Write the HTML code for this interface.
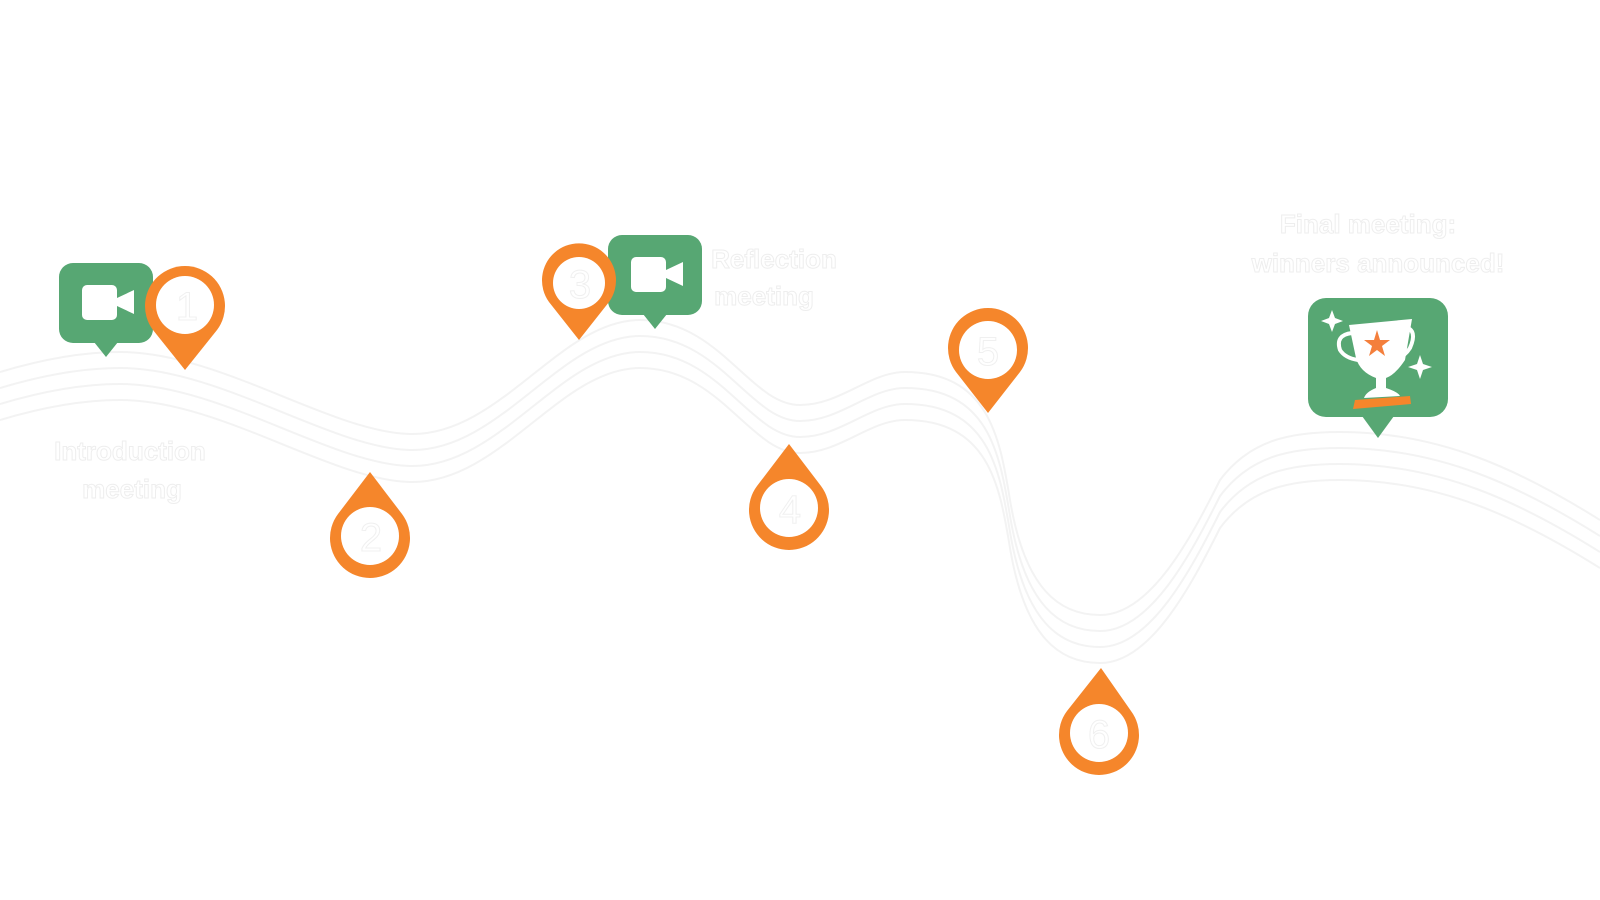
<!DOCTYPE html>
<html><head><meta charset="utf-8"><style>
html,body{margin:0;padding:0;background:#fff;width:1600px;height:900px;overflow:hidden}
svg{display:block}
text{font-family:"Liberation Sans",sans-serif;font-weight:bold;font-size:26px;fill:#fff;stroke:#eeeeee;stroke-width:1;text-anchor:middle}
.num{font-size:40px;font-weight:normal;stroke:#f0f0f0}
</style></head><body>
<svg width="1600" height="900" viewBox="0 0 1600 900">
<defs>
<path id="w" d="M0,372 C40,360 80,352 120,352 C220,352 330,432 410,434 C500,436 560,320 640,320 C720,320 750,405 800,405 C840,405 870,372 905,372 C990,372 1000,440 1010,500 C1025,590 1060,615 1100,615 C1150,615 1190,540 1220,480 C1250,440 1290,432 1340,432 C1440,432 1520,470 1600,520" fill="none"/>
</defs>
<g stroke="#f3f3f3" stroke-width="2" fill="none">
<use href="#w"/>
<use href="#w" transform="translate(0,16)"/>
<use href="#w" transform="translate(0,32)"/>
<use href="#w" transform="translate(0,48)"/>
</g>
<g fill="#57a773">
<rect x="59" y="263" width="94" height="80" rx="14"/><path d="M94,342 L106,357 L118,342Z"/>
<rect x="608" y="235" width="94" height="80" rx="14"/><path d="M643,314 L655,329 L667,314Z"/>
<rect x="1308" y="298" width="140" height="119" rx="18"/><path d="M1362,416 L1378,438 L1394,416Z"/>
</g>
<g fill="#fff">
<rect x="82" y="285" width="35" height="35" rx="5"/><path d="M117,298 L134,290 L134,314 L117,306Z"/>
<rect x="631" y="257" width="35" height="35" rx="5"/><path d="M666,270 L683,262 L683,286 L666,278Z"/>
</g>
<g>
<path d="M1349,325 L1412,319 L1405,360 Q1395,375 1386,378 L1386,388 Q1398,392 1400,396 L1364,398 Q1366,392 1376,388 L1376,378 Q1360,372 1356,358 Z" fill="#fff"/>
<path d="M1352,333 Q1335,335 1340,350 Q1345,358 1358,360" fill="none" stroke="#fff" stroke-width="4"/>
<path d="M1405,327 Q1418,330 1410,348 Q1405,356 1398,358" fill="none" stroke="#fff" stroke-width="4"/>
<polygon points="1377,330 1380,340 1390,340 1382,346 1385,356 1377,350 1369,356 1372,346 1364,340 1374,340" fill="#f47f3c"/>
<path d="M1355,400 L1410,396 L1411,404 L1353,409Z" fill="#f5862b"/>
<path d="M1332,310 l3,8 l8,3 l-8,3 l-3,8 l-3,-8 l-8,-3 l8,-3z" fill="#fff"/>
<path d="M1420,355 l3,9 l9,3 l-9,3 l-3,9 l-3,-9 l-9,-3 l9,-3z" fill="#fff"/>
</g>
<g fill="#f5862b">
<path d="M185,370 L153,330 A40,40 0 1 1 217,330 Z"/>
<path d="M579,340 L549,302 A37,37 0 1 1 609,302 Z"/>
<path d="M988,413 L956,372 A40,40 0 1 1 1020,372 Z"/>
<path d="M370,472 L338,514 A40,40 0 1 0 402,514 Z"/>
<path d="M789,444 L757,486 A40,40 0 1 0 821,486 Z"/>
<path d="M1101,668 L1067,711 A40,40 0 1 0 1131,711 Z"/>
</g>
<g fill="#fff">
<circle cx="185" cy="305" r="29"/>
<circle cx="579" cy="283" r="26"/>
<circle cx="988" cy="350" r="29"/>
<circle cx="370" cy="536" r="29"/>
<circle cx="789" cy="508" r="29"/>
<circle cx="1099" cy="733" r="29"/>
</g>
<text class="num" x="187" y="320">1</text>
<text class="num" x="371" y="551">2</text>
<text class="num" x="580" y="298">3</text>
<text class="num" x="790" y="523">4</text>
<text class="num" x="988" y="365">5</text>
<text class="num" x="1099" y="748">6</text>
<text x="130" y="460">Introduction</text>
<text x="132" y="498">meeting</text>
<text x="774" y="268">Reflection</text>
<text x="764" y="305">meeting</text>
<text x="1368" y="233">Final meeting:</text>
<text x="1378" y="272">winners announced!</text>
</svg>
</body></html>
